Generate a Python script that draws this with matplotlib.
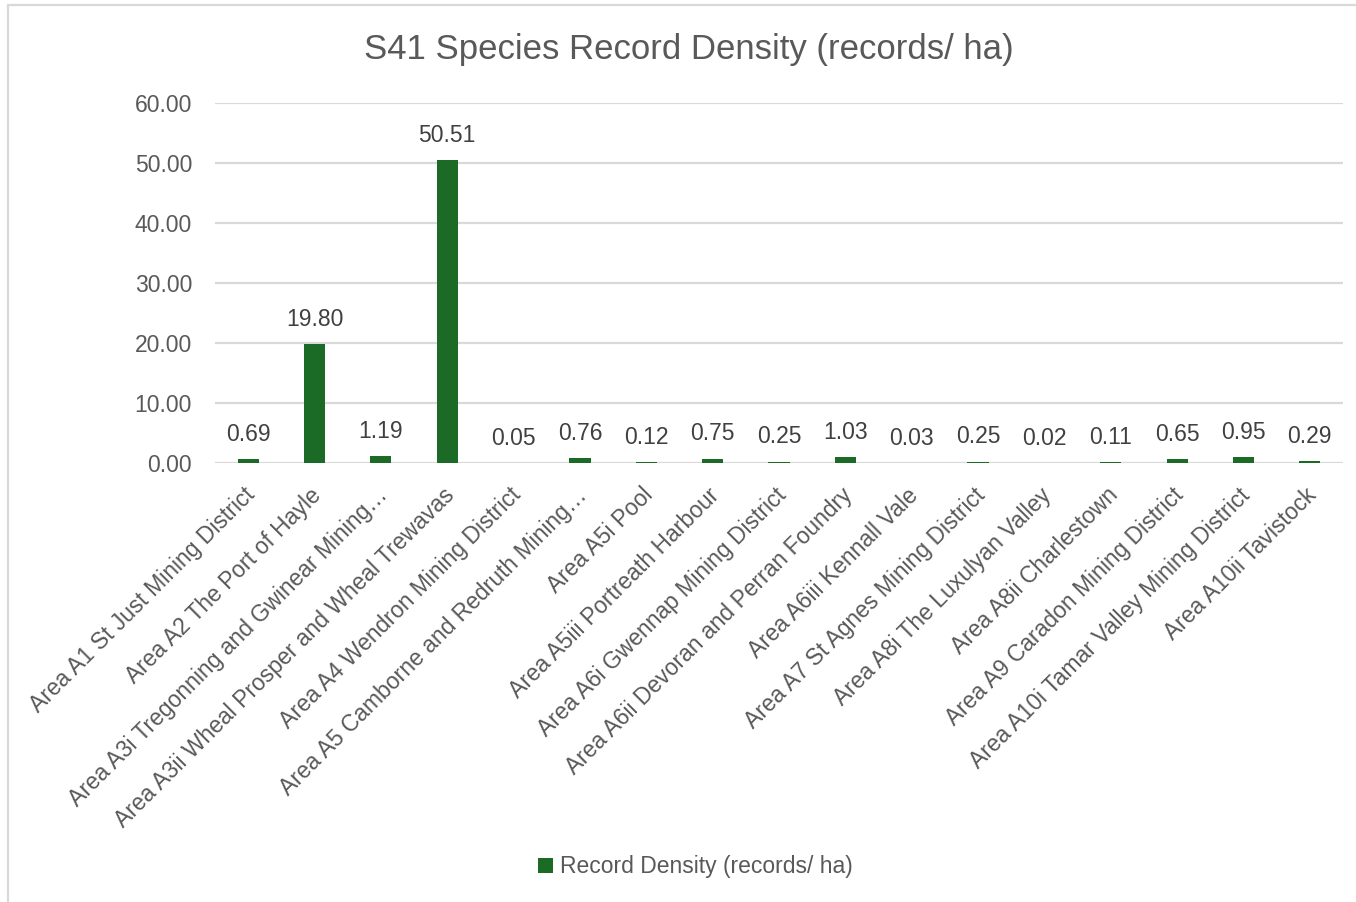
import matplotlib
matplotlib.use("Agg")
import matplotlib.pyplot as plt
from matplotlib.patches import Rectangle
from matplotlib.transforms import ScaledTranslation

plt.rcParams['font.family'] = ['Liberation Sans', 'DejaVu Sans']

areas = [
    "Area A1 St Just Mining District",
    "Area A2 The Port of Hayle",
    "Area A3i Tregonning and Gwinear Mining…",
    "Area A3ii Wheal Prosper and Wheal Trewavas",
    "Area A4 Wendron Mining District",
    "Area A5 Camborne and Redruth Mining…",
    "Area A5i Pool",
    "Area A5iii Portreath Harbour",
    "Area A6i Gwennap Mining District",
    "Area A6ii Devoran and Perran Foundry",
    "Area A6iii Kennall Vale",
    "Area A7 St Agnes Mining District",
    "Area A8i The Luxulyan Valley",
    "Area A8ii Charlestown",
    "Area A9 Caradon Mining District",
    "Area A10i Tamar Valley Mining District",
    "Area A10ii Tavistock",
]
density = [0.69, 19.80, 1.19, 50.51, 0.05, 0.76, 0.12, 0.75, 0.25,
           1.03, 0.03, 0.25, 0.02, 0.11, 0.65, 0.95, 0.29]
y_ticks = [0, 10, 20, 30, 40, 50, 60]

title = "S41 Species Record Density (records/ ha)"
series_name = "Record Density (records/ ha)"

bar_color = "#1b6a26"
text_grey = "#595959"
label_dark = "#404040"
grid_grey = "#d9d9d9"

W, H = 1356, 902
fig = plt.figure(figsize=(W / 100, H / 100), dpi=100)
fig.patch.set_facecolor("white")

# chart frame
fig.add_artist(Rectangle((8 / W, -0.05), 1.2, 1.05 - 5 / H,
                         transform=fig.transFigure, fill=False,
                         edgecolor=grid_grey, linewidth=1.6))

ax = fig.add_axes([215 / W, 1 - 463 / H, (1343 - 215) / W, (463 - 103) / H])
x = list(range(len(areas)))
bars = ax.bar(x, density, width=0.32, color=bar_color, label=series_name, zorder=3)

ax.set_xlim(-0.5, len(areas) - 0.5)
ax.set_ylim(0, 60)
ax.set_yticks(y_ticks)
ax.set_yticklabels([f"{v:.2f}" for v in y_ticks])
ax.yaxis.grid(True, color=grid_grey, linewidth=1.6, zorder=0)
ax.set_axisbelow(True)
for side in ("top", "right", "left", "bottom"):
    ax.spines[side].set_visible(False)
ax.tick_params(axis="y", length=0, pad=16.5, labelsize=16.5, labelcolor=text_grey)
ax.tick_params(axis="x", length=0, pad=24, labelsize=16.5, labelcolor=text_grey)

ax.set_xticks(x)
ax.set_xticklabels(areas, rotation=45, ha="right", va="baseline",
                   rotation_mode="anchor")
shift = ScaledTranslation(0.08, 0, fig.dpi_scale_trans)
for lab in ax.get_xticklabels():
    lab.set_transform(lab.get_transform() + shift)

for xi, v in zip(x, density):
    ax.annotate(f"{v:.2f}", (xi, v), xytext=(0, 13), textcoords="offset points",
                ha="center", va="baseline", fontsize=16.5, color=label_dark)

fig.text(689 / W, 1 - 49 / H, title, ha="center", va="center",
         fontsize=25, color=text_grey)

fig.legend(handles=[bars], labels=[series_name], loc="center",
           bbox_to_anchor=(695 / W, 1 - 867 / H), frameon=False,
           fontsize=16.5, labelcolor=text_grey, handlelength=0.65,
           handleheight=0.65, handletextpad=0.3)

fig.savefig("out.png", dpi=100, facecolor="white")
